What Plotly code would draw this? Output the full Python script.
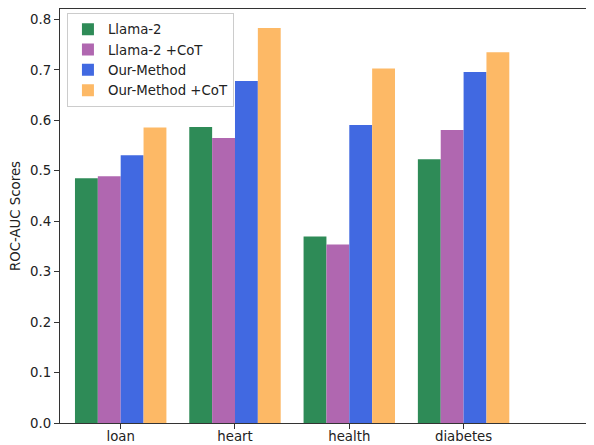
import plotly.graph_objects as go

categories = ["loan", "heart", "health", "diabetes"]
series_names = ["Llama-2", "Llama-2 +CoT", "Our-Method", "Our-Method +CoT"]
llama2 = [0.485, 0.587, 0.370, 0.523]
llama2_cot = [0.489, 0.565, 0.354, 0.581]
our_method = [0.531, 0.678, 0.591, 0.696]
our_method_cot = [0.586, 0.783, 0.703, 0.735]
colors = ["#2E8B57", "#B067B0", "#4169E1", "#FDB966"]
y_ticks = [0.0, 0.1, 0.2, 0.3, 0.4, 0.5, 0.6, 0.7, 0.8]

fig = go.Figure()
for name, vals, col in zip(series_names, [llama2, llama2_cot, our_method, our_method_cot], colors):
    fig.add_trace(go.Bar(x=categories, y=vals, name=name, marker=dict(color=col, line=dict(width=0))))

FONT = "DejaVu Sans"
FS = 13.3
fig.update_layout(
    width=586, height=437,
    margin=dict(l=52, r=0, t=1, b=22),
    paper_bgcolor="white", plot_bgcolor="white",
    barmode="group", bargap=0.2, bargroupgap=0,
    font=dict(family=FONT, size=FS, color="#222"),
    legend=dict(x=0.013, y=0.99, xanchor="left", yanchor="top",
                bgcolor="white", bordercolor="#cccccc", borderwidth=1,
                font=dict(size=FS), tracegroupgap=0),
    xaxis=dict(range=[-0.531, 4.141], showline=True, linecolor="#333", linewidth=1.2,
               mirror=True, ticks="outside", ticklen=5, tickcolor="#333",
               showgrid=False, automargin=False, tickfont=dict(size=FS),
               ticklabelstandoff=-4),
    yaxis=dict(range=[0, 0.8208], showline=True, linecolor="#333", linewidth=1.2,
               ticks="outside", ticklen=5, tickcolor="#333", tickvals=y_ticks,
               tickformat=".1f", showgrid=False, zeroline=False, automargin=False,
               tickfont=dict(size=FS),
               title=dict(text="ROC-AUC Scores", font=dict(size=FS), standoff=6)),
)
fig.write_html("out.html")
